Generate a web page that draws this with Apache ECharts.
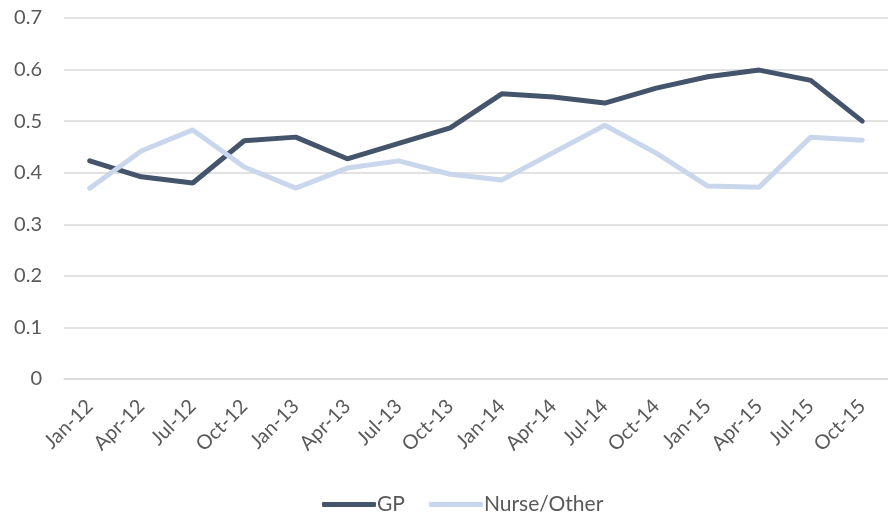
<!DOCTYPE html>
<html>
<head>
<meta charset="utf-8">
<script src="https://cdn.jsdelivr.net/npm/echarts@6/dist/echarts.min.js"></script>
<style>
  html, body { margin: 0; padding: 0; background: #fff; }
  #main { width: 888px; height: 515px; }
</style>
</head>
<body>
<div id="main"></div>
<script>
var categories = ['Jan-12', 'Apr-12', 'Jul-12', 'Oct-12', 'Jan-13', 'Apr-13', 'Jul-13', 'Oct-13',
    'Jan-14', 'Apr-14', 'Jul-14', 'Oct-14', 'Jan-15', 'Apr-15', 'Jul-15', 'Oct-15'];
var gpValues = [0.423, 0.392, 0.380, 0.462, 0.469, 0.427, 0.457, 0.487,
    0.553, 0.547, 0.535, 0.564, 0.586, 0.599, 0.579, 0.500];
var nurseValues = [0.370, 0.442, 0.483, 0.411, 0.370, 0.409, 0.423, 0.397,
    0.386, 0.439, 0.492, 0.438, 0.374, 0.372, 0.469, 0.463];

var myChart = echarts.init(document.getElementById('main'));

var font = 'Lato, sans-serif';

var option = {
    animation: false,
    textStyle: { fontFamily: font, color: '#595959' },
    grid: { left: 64, right: -10, top: 18, bottom: 136 },
    legend: {
        top: 489,
        left: 317,
        icon: 'roundRect',
        itemWidth: 54,
        itemHeight: 5,
        itemGap: 24,
        textStyle: { fontSize: 21, color: '#595959', fontFamily: font, padding: [0, 0, 0, -4] },
        data: ['GP', 'Nurse/Other']
    },
    xAxis: {
        type: 'category',
        data: categories,
        boundaryGap: true,
        axisLine: { lineStyle: { color: '#d9d9d9', width: 1.5 } },
        axisTick: { show: false },
        axisLabel: { rotate: 45, fontSize: 20, color: '#595959', margin: 24, interval: 0 }
    },
    yAxis: {
        type: 'value',
        min: 0,
        max: 0.7,
        interval: 0.1,
        axisLine: { show: false },
        axisTick: { show: false },
        splitLine: { lineStyle: { color: '#d9d9d9', width: 1.5 } },
        axisLabel: { fontSize: 20, color: '#595959', margin: 22 }
    },
    series: [
        {
            name: 'GP',
            type: 'line',
            data: gpValues,
            symbol: 'none',
            lineStyle: { color: '#44546A', width: 5, cap: 'round' },
            itemStyle: { color: '#44546A' }
        },
        {
            name: 'Nurse/Other',
            type: 'line',
            data: nurseValues,
            symbol: 'none',
            lineStyle: { color: '#C9D7EC', width: 5, cap: 'round' },
            itemStyle: { color: '#C9D7EC' }
        }
    ]
};

myChart.setOption(option);
</script>
</body>
</html>
